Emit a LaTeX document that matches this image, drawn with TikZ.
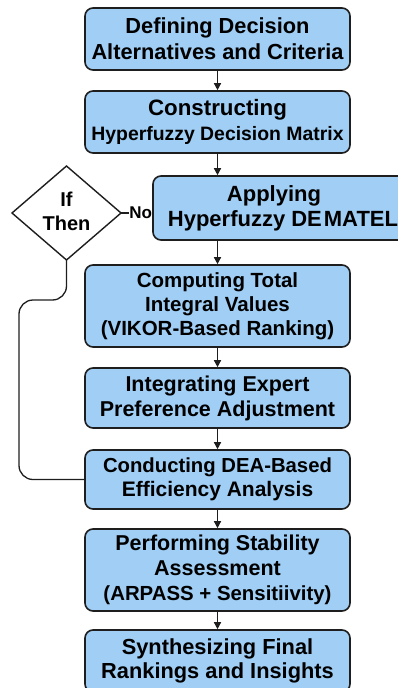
\documentclass[tikz,border=0pt]{standalone}
\usepackage{fontspec}
\setmainfont{Liberation Sans}
\usetikzlibrary{arrows.meta}
\definecolor{boxfill}{RGB}{160,206,245}
\definecolor{boxline}{RGB}{30,30,30}
% font size with a fixed line pitch
\newcommand{\fsz}[2]{\fontsize{#1}{#2}\selectfont}
\tikzset{
  stepbox/.style={draw=boxline, fill=boxfill, line width=1.6pt, rounded corners=8pt,
    align=center, inner sep=0pt, minimum width=265pt,
    font=\fsz{21.5}{25}\bfseries},
  flow/.style={draw=boxline, line width=1.4pt, -{Triangle[length=7pt,width=7pt]}},
  loopline/.style={draw=boxline, line width=1.3pt, rounded corners=14pt},
}
\begin{document}
\begin{tikzpicture}[x=1pt,y=-1pt]
\useasboundingbox (0,0) rectangle (398,688);
\clip (0,0) rectangle (398,688);

% process steps
\node[stepbox, minimum height=62pt, font=\fsz{21.8}{26}\bfseries] (b1) at (217.5,39)
  {Defining Decision\\Alternatives and Criteria};
\node[stepbox, minimum height=62pt, font=\fsz{22.3}{25}\bfseries] (b2) at (217.5,122)
  {Constructing\\{\fsz{19.4}{25}Hyperfuzzy Decision Matrix}};
\node[stepbox, minimum width=260pt, minimum height=64pt, font=\fsz{22}{25}\bfseries] (b3) at (283,208)
  {\hspace*{-18pt}Applying\\Hyperfuzzy DE\kern2pt MATEL};
\node[stepbox, minimum height=82pt, font=\fsz{20.5}{24}\bfseries] (b4) at (217.5,306)
  {Computing Total\\Integral Values\\(VIKOR-Based Ranking)};
\node[stepbox, minimum height=60pt] (b5) at (217.5,398)
  {Integrating Expert\\Preference Adjustment};
\node[stepbox, minimum height=59pt, font=\fsz{21}{24}\bfseries] (b6) at (217.5,479.5)
  {{\fsz{20.3}{24}Conducting DEA-Based}\\Efficiency Analysis};
\node[stepbox, minimum height=82pt] (b7) at (217.5,570)
  {Performing Stability\\Assessment\\{\fsz{20.4}{25}(ARPASS + Sensitiivity)}};
\node[stepbox, minimum height=62pt, font=\fsz{21.8}{24}\bfseries] (b8) at (217.5,661)
  {Synthesizing Final\\Rankings and Insights};

% decision diamond
\coordinate (dT) at (66.5,166);
\coordinate (dR) at (121,213);
\coordinate (dB) at (66.5,260);
\coordinate (dL) at (12,213);
\draw[boxline, line width=1.4pt, fill=white, line join=miter] (dT) -- (dR) -- (dB) -- (dL) -- cycle;
\node[align=center, inner sep=0pt, font=\fsz{20}{24}\bfseries] (cond) at (66.5,211) {If\\Then};
\node[inner sep=0pt, font=\fsz{17}{18}\bfseries, anchor=east] (no) at (b3.west |- 0,213) {No};
\draw[boxline, line width=1.4pt] (dR) -- (no.west);

% main flow
\draw[flow] (b1) -- (b2);
\draw[flow] (b2.south) -- (b2.south |- b3.north);
\draw[flow] (b4.north |- b3.south) -- (b4.north);
\draw[flow] (b4) -- (b5);
\draw[flow] (b5) -- (b6);
\draw[flow] (b6) -- (b7);
\draw[flow] (b7) -- (b8);

% feedback loop from the decision to the DEA step
\coordinate (bend) at (19,300);
\draw[loopline] (dB) -- (66.5,300) -- (bend) -- (bend |- b6.west) -- (b6.west);
\end{tikzpicture}
\end{document}
